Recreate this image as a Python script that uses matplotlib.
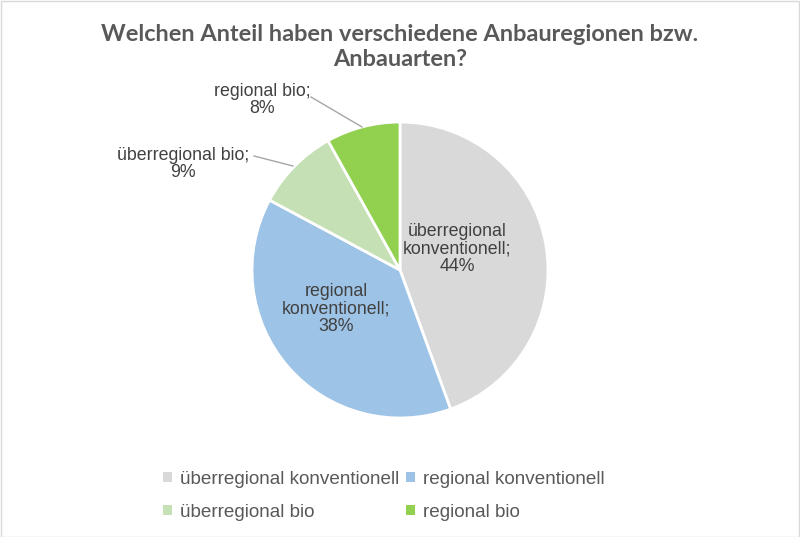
import numpy as np
import matplotlib.pyplot as plt
import matplotlib
matplotlib.rcParams['font.family'] = ['Liberation Sans', 'DejaVu Sans']

# data
categories = ['überregional konventionell', 'regional konventionell',
              'überregional bio', 'regional bio']
values = [44, 38, 9, 8]
colors = ['#d9d9d9', '#9dc3e6', '#c5e0b4', '#92d050']
title = 'Welchen Anteil haben verschiedene Anbauregionen bzw.\nAnbauarten?'

W, H = 800, 537
fig = plt.figure(figsize=(W / 100, H / 100), dpi=100)

# pie centre (400, 270) px, radius 148 px
cx, cy, r = 400, 270, 148
ax = fig.add_axes([(cx - r) / W, (H - cy - r) / H, 2 * r / W, 2 * r / H])
wedges, _ = ax.pie(values, colors=colors, startangle=90, counterclock=False,
                   radius=1.0, wedgeprops=dict(edgecolor='white', linewidth=2))
ax.set_xlim(-1, 1)
ax.set_ylim(-1, 1)
ax.set_aspect('equal')
ax.axis('off')

def px(x, y):
    # pixel -> pie data coords
    return ((x - cx) / r, (cy - y) / r)

total = sum(values)
pct = [round(v / total * 100) for v in values]
lab = [f'{c};\n{p}%' for c, p in zip(categories, pct)]
lab[0] = f'überregional\nkonventionell;\n{pct[0]}%'
lab[1] = f'regional\nkonventionell;\n{pct[1]}%'

label_pos = [(457, 249), (336, 309), (183, 164), (262, 100)]
for t, (x, y) in zip(lab, label_pos):
    ax.text(*px(x, y), t, ha='center', va='center', fontsize=12.8,
            color='#404040', linespacing=1.05, clip_on=False)

# leader lines for the small slices
leaders = [((254, 156), (293, 166)), ((311, 97), (362, 127))]
for (x0, y0), (x1, y1) in leaders:
    a, b = px(x0, y0)
    c, d = px(x1, y1)
    ax.plot([a, c], [b, d], color='#a6a6a6', lw=1, clip_on=False)

fig.text(0.5, (H - 47) / H, title, ha='center', va='center', fontsize=16.9,
         fontweight='bold', color='#595959', family=['Lato', 'DejaVu Sans'],
         linespacing=1.25)

# legend in row order: row 1 = first two categories
order = [0, 2, 1, 3]
leg = fig.legend([wedges[i] for i in order], [categories[i] for i in order],
                 ncol=2, loc='center',
                 bbox_to_anchor=(384 / W, (H - 496) / H), frameon=False,
                 fontsize=13.6, handlelength=0.45, handleheight=0.45,
                 handletextpad=0.45, columnspacing=0.35, labelspacing=0.85)
for t in leg.get_texts():
    t.set_color('#595959')
for h in leg.legend_handles:
    h.set_edgecolor('none')

# chart border
fig.patches.append(plt.Rectangle((0.5 / W, 0.5 / H), 1 - 1.5 / W, 1 - 1.5 / H,
                                 transform=fig.transFigure, fill=False,
                                 edgecolor='#d9d9d9', lw=1))

fig.savefig('out.png', dpi=100)
